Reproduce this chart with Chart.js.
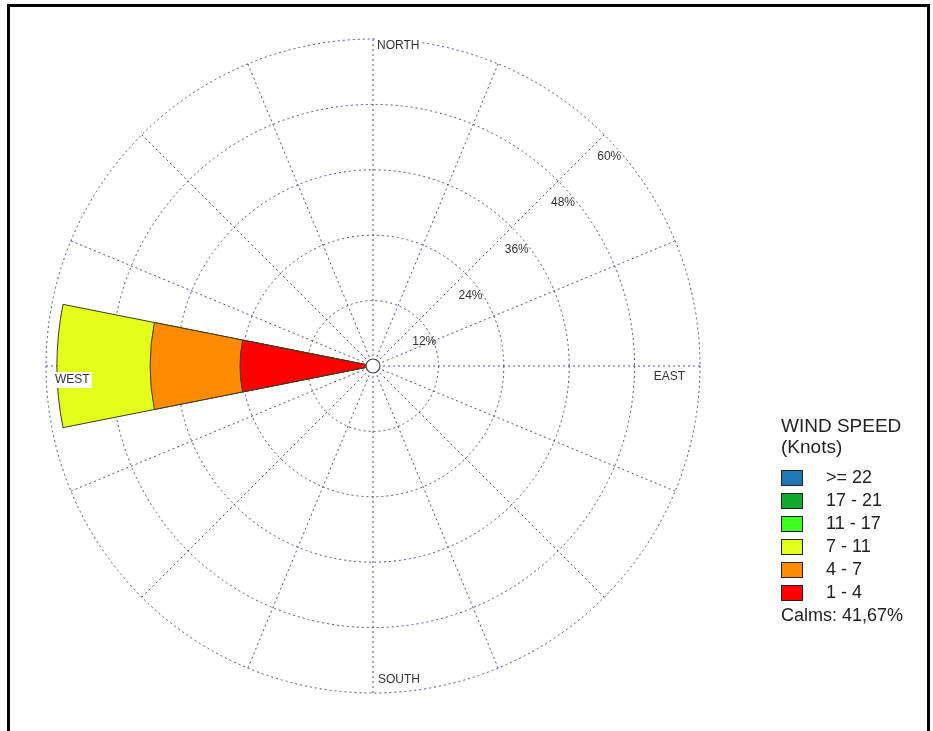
<!DOCTYPE html>
<html>
<head>
<meta charset="utf-8">
<script src="https://cdn.jsdelivr.net/npm/chart.js@4"></script>
<style>
html,body{margin:0;padding:0;background:#fff;}
#wrap{position:relative;width:933px;height:731px;overflow:hidden;background:#fff;}
#frame{position:absolute;left:7px;top:4px;width:923px;height:800px;border:3px solid #000;box-sizing:border-box;}
#c{position:absolute;left:0;top:0;}
#legend{position:absolute;left:781px;top:415px;font-family:"Liberation Sans",Arial,sans-serif;color:#222;}
#legend .t{font-size:19px;line-height:21px;white-space:nowrap;}
#legend .items{margin-top:9px;}
#legend .row{height:23px;display:flex;align-items:center;font-size:18px;white-space:nowrap;}
#legend .box{width:20px;height:14px;border:1px solid #222;margin-right:23px;}
#legend .calm{height:23px;line-height:23px;font-size:18px;white-space:nowrap;}
</style>
</head>
<body>
<div id="wrap">
  <div id="frame"></div>
  <canvas id="c" width="933" height="731"></canvas>
  <div id="legend"></div>
</div>
<script>
// ---- data ----
const directions = ['N','NNE','NE','ENE','E','ESE','SE','SSE','S','SSW','SW','WSW','W','WNW','NW','NNW'];
const speedBins = ['1 - 4','4 - 7','7 - 11','11 - 17','17 - 21','>= 22'];
const binColors = ['#ff0000','#ff8c00','#e3ff1c','#3cff1e','#12a82e','#1f77b8'];
const freq1to4   = [0,0,0,0,0,0,0,0,0,0,0,0,24.4,0,0,0];
const freq4to7   = [0,0,0,0,0,0,0,0,0,0,0,0,16.5,0,0,0];
const freq7to11  = [0,0,0,0,0,0,0,0,0,0,0,0,17.1,0,0,0];
const freq11to17 = [0,0,0,0,0,0,0,0,0,0,0,0,0,0,0,0];
const freq17to21 = [0,0,0,0,0,0,0,0,0,0,0,0,0,0,0,0];
const freq22plus = [0,0,0,0,0,0,0,0,0,0,0,0,0,0,0,0];
const ringTicks = [12,24,36,48,60];
const compassLabels = ['NORTH','EAST','SOUTH','WEST'];
const legendTitle = ['WIND SPEED','(Knots)'];
const calmsText = 'Calms: 41,67%';

// ---- build ----
const series = [freq1to4, freq4to7, freq7to11, freq11to17, freq17to21, freq22plus];
const datasets = series.map((vals, k) => ({
  label: speedBins[k],
  data: vals.map((v, i) => v > 0 ? series.slice(0, k + 1).reduce((s, arr) => s + arr[i], 0) : 0),
  backgroundColor: binColors[k],
  borderColor: '#3a3a20',
  borderWidth: 1,
  rAxisID: 'r'
}));

const gridColor = 'rgba(60,60,125,0.9)';
const LABEL_FONT = '12px "Liberation Sans", Arial, sans-serif';

const overlay = {
  id: 'overlay',
  afterDatasetsDraw(chart) {
    const ctx = chart.ctx;
    const s = chart.scales.rGrid;
    const xc = s.xCenter, yc = s.yCenter, R = s.drawingArea;
    ctx.save();
    ctx.beginPath();
    ctx.arc(xc, yc, 7, 0, Math.PI * 2);
    ctx.fillStyle = '#fff';
    ctx.fill();
    ctx.lineWidth = 1.2;
    ctx.strokeStyle = '#444';
    ctx.stroke();
    ctx.font = LABEL_FONT;
    ctx.fillStyle = '#333';
    ctx.textAlign = 'left';
    ctx.textBaseline = 'middle';
    ringTicks.forEach(v => {
      const d = s.getDistanceFromCenterForValue(v);
      ctx.fillText(v + '%', xc + d * Math.SQRT1_2 - 7, yc - d * Math.SQRT1_2 + 22);
    });
    const pos = [
      {x: xc + 4, y: yc - R + 7, align: 'left'},
      {x: xc + R - 15, y: yc + 11, align: 'right'},
      {x: xc + 5, y: yc + R - 13, align: 'left'},
      {x: xc - R + 9, y: yc + 14, align: 'left'}
    ];
    compassLabels.forEach((txt, i) => {
      const p = pos[i];
      const w = ctx.measureText(txt).width;
      const left = p.align === 'left' ? p.x : p.x - w;
      ctx.fillStyle = '#fff';
      ctx.fillRect(left - 2, p.y - 8, w + 4, 16);
      ctx.fillStyle = '#333';
      ctx.fillText(txt, left, p.y);
    });
    ctx.restore();
  }
};

new Chart(document.getElementById('c'), {
  type: 'polarArea',
  data: { labels: directions, datasets },
  options: {
    responsive: false,
    animation: false,
    layout: { padding: { left: 46, top: 39, right: 233, bottom: 38 } },
    plugins: { legend: { display: false }, tooltip: { enabled: false } },
    scales: {
      r: {
        type: 'radialLinear', axis: 'r', min: 0, max: 60, startAngle: -11.25,
        ticks: { display: false, stepSize: 12 },
        grid: { display: false },
        angleLines: { display: false },
        pointLabels: { display: false }
      },
      rGrid: {
        type: 'radialLinear', axis: 'r', min: 0, max: 60, startAngle: 0,
        ticks: { display: false, stepSize: 12 },
        grid: { display: true, circular: true, color: gridColor, lineWidth: 1 },
        border: { dash: [2, 3] },
        angleLines: { display: true, color: gridColor, lineWidth: 1, borderDash: [2, 3] },
        pointLabels: { display: false }
      }
    }
  },
  plugins: [overlay]
});

// legend
const lg = document.getElementById('legend');
legendTitle.forEach(t => {
  const d = document.createElement('div'); d.className = 't'; d.textContent = t; lg.appendChild(d);
});
const items = document.createElement('div'); items.className = 'items';
for (let k = speedBins.length - 1; k >= 0; k--) {
  const row = document.createElement('div'); row.className = 'row';
  const b = document.createElement('div'); b.className = 'box'; b.style.background = binColors[k];
  const t = document.createElement('span'); t.textContent = speedBins[k];
  row.appendChild(b); row.appendChild(t); items.appendChild(row);
}
const calm = document.createElement('div'); calm.className = 'calm'; calm.textContent = calmsText;
items.appendChild(calm);
lg.appendChild(items);
</script>
</body>
</html>
